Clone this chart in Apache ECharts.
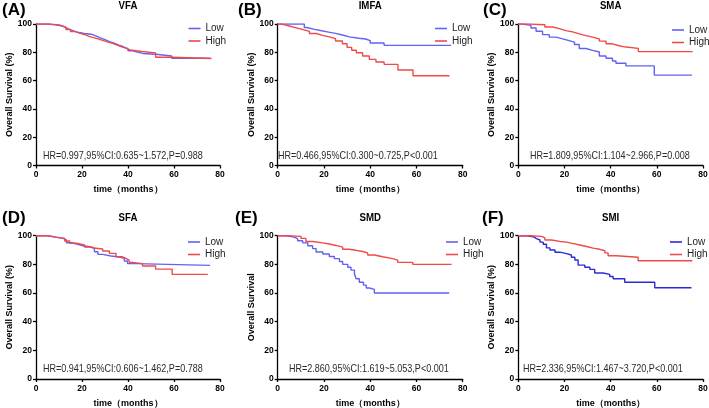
<!DOCTYPE html>
<html>
<head>
<meta charset="utf-8">
<title>Overall Survival - KM curves</title>
<script src="https://cdn.jsdelivr.net/npm/echarts@6.0.0/dist/echarts.min.js"></script>
<style>
  html, body { margin: 0; padding: 0; background: #fff; }
  #chart { width: 709px; height: 408px; }
</style>
</head>
<body>
<div id="chart"></div>
<script>
// KM step points: [months, survival %]
var vfaLow  = [[0,100],[5.5,99.4],[8.5,98.8],[11,97.9],[12.5,96.5],[14,95.3],[16,94.2],[18,93.3],[21,92.8],[24,91.6],[26,90.2],[28,88.9],[30,87.6],[32,86.5],[34,85.1],[36,83.9],[38,82.6],[40,81.1],[42,80.1],[44,79.2],[46.5,78.6],[52,77.4],[59,75.8],[75.5,75.8]];
var vfaHigh = [[0,100],[5.5,99.4],[10,98.6],[11.5,97.6],[13,96.1],[15,94.6],[17,93.5],[19,92.6],[21,91.3],[23,90.4],[25,89.5],[27,88.4],[29,87.4],[31,86.5],[33,85.3],[35,84.1],[37,83],[39,81.6],[41,80.6],[46,79.6],[52,76.5],[59,75.6],[76.3,75.6]];

var imfaLow  = [[0,100],[11.5,97.5],[12.5,96.2],[16,95.2],[19,94.3],[22,93.4],[25,92.2],[28,90.9],[31,89.9],[35,89.4],[38,88.2],[40,86.6],[46,84.9],[75,84.9]];
var imfaHigh = [[0,100],[1.5,99.4],[3,98.6],[5,97.3],[8,96],[11,94.8],[13.7,93.3],[16.6,92],[19.5,90.9],[22.3,89.7],[25,88],[28,86],[30,83.5],[32,81.5],[34,79.7],[36.7,77.4],[39.6,75],[42.5,73.1],[46,71.5],[52,67.5],[58.5,63.4],[74.3,63.4]];

var smaLow  = [[0,100],[1.9,99],[5.5,97.2],[7.7,94.9],[10.5,92.5],[13.4,90.7],[16.3,89.5],[19.2,88.3],[22,87.2],[24.3,85.5],[26.4,82.7],[29.3,81.4],[32.2,80.2],[35.1,77.4],[38,75.8],[40.8,73.9],[42.3,72.3],[46.6,70.4],[58.9,63.9],[75.2,63.9]];
var smaHigh = [[0,100],[5,99.5],[11.5,97.9],[14.9,96.7],[17.8,95.3],[20.6,94.4],[23.5,93],[26.4,91.8],[29.3,90.7],[32.2,89.5],[35.1,87.9],[38,86],[40.8,84.6],[43.7,83.7],[46.6,82.8],[52,80.5],[75.5,80.5]];

var sfaLow  = [[0,100],[5.3,99],[8.2,98.1],[11.8,97],[13.2,95.1],[15.4,94],[18.2,93],[20.4,92.3],[23.3,91.2],[25.4,88.8],[26.9,87],[29,85.8],[32.6,85.1],[36.2,84.2],[38.4,82.3],[39.8,80.5],[43.4,79.3],[75.7,79.3]];
var sfaHigh = [[0,100],[5.3,99],[8.9,98.1],[12.5,96.3],[14.7,94.7],[17.5,93.5],[21.1,92.1],[24,91.2],[26.1,90.7],[29,89.3],[31.9,87.7],[34.8,85.3],[37.6,84.2],[39.1,83],[40.5,81.4],[42,80.5],[46.3,78.9],[52,76.7],[59.2,73],[74.7,73]];

var smdLow  = [[0,100],[3.6,99.3],[6.5,98],[8.6,96.5],[10.8,95],[13,93],[15.1,91],[16.6,88.6],[19.5,87.2],[22.3,85.5],[24.5,84],[26.7,82],[28.1,80],[30.3,78],[31.7,76],[33.2,73.5],[33.9,70],[35.3,67.5],[37.1,65.5],[38.3,63.5],[39.7,62.5],[41.8,60],[74.2,60]];
var smdHigh = [[0,100],[3.6,99.5],[10.1,98.1],[12.2,96],[15.1,95],[19.5,94.2],[22.3,93.2],[25.2,92],[28.1,90.5],[30.9,89.8],[33.9,89],[36.8,88],[38.9,86.5],[41.8,85.3],[45.4,84],[49.7,83],[51.9,81.4],[58.4,80],[75.2,80]];

var smiLow  = [[0,100],[3.6,99.3],[6.5,98],[7.9,97],[9.4,95.5],[10.8,94],[12.2,91.5],[13.7,90],[15.9,88.5],[18,87.5],[20.9,86.5],[23,85],[24.5,83],[25.9,79.5],[28.8,78],[31,76.5],[33.1,74],[36.7,73],[39.6,71.5],[41.1,70],[46.1,67.5],[59.1,63.7],[75,63.7]];
var smiHigh = [[0,100],[5,99.5],[10.1,98.5],[11.5,97],[14.4,96],[18,95.5],[20.9,94.5],[23.8,93.5],[26.7,92.5],[29.5,91.3],[32.4,90.5],[35.3,89.5],[37.5,88],[38.9,86],[42.5,85],[51.9,82.5],[75.4,82.5]];

var panelKeys   = ['(A)', '(B)', '(C)', '(D)', '(E)', '(F)'];
var panelTitles = ['VFA', 'IMFA', 'SMA', 'SFA', 'SMD', 'SMI'];
var hrTexts = [
  'HR=0.997,95%CI:0.635~1.572,P=0.988',
  'HR=0.466,95%CI:0.300~0.725,P<0.001',
  'HR=1.809,95%CI:1.104~2.966,P=0.008',
  'HR=0.941,95%CI:0.606~1.462,P=0.788',
  'HR=2.860,95%CI:1.619~5.053,P<0.001',
  'HR=2.336,95%CI:1.467~3.720,P<0.001'
];
var yNames = ['Overall Survival (%)', 'Overall Survival (%)', 'Overall Survival (%)',
              'Overall Survival (%)', 'Overall Survival', 'Overall Survival (%)'];
var xName = 'time（months）';
var groupNames = ['Low', 'High'];
var xMax = 80, yMax = 100, tickStep = 20;

var lowSets  = [vfaLow, imfaLow, smaLow, sfaLow, smdLow, smiLow];
var highSets = [vfaHigh, imfaHigh, smaHigh, sfaHigh, smdHigh, smiHigh];

// ---- layout / style ----
var colX = [36, 277.7, 518.3], colW = [184, 185, 184.7];
var rowY = [24, 235.7], rowH = [141.5, 143.3];
var legendX = [183.5, 430, 667, 183, 441, 665];
var legendY = [18.5, 18.5, 20, 232, 232, 232];
var letterX = [2, 238, 483, 2, 235, 482];
var hrX = [43, 278, 530, 43, 289, 523];
var lowColors = ['#6262f4', '#6262f4', '#6262f4', '#6262f4', '#6262f4', '#2a2ad4'];
var highColor = '#ee4a4a';
var FONT = 'Liberation Sans, Arial, sans-serif';

var chart = echarts.init(document.getElementById('chart'));
var grids = [], xAxes = [], yAxes = [], series = [], legends = [], graphics = [];

for (var i = 0; i < 6; i++) {
  var c = i % 3, r = Math.floor(i / 3);
  var gx = colX[c], gy = rowY[r], gw = colW[c], gh = rowH[r];
  grids.push({ left: gx, top: gy, width: gw, height: gh, outerBoundsMode: 'none' });

  var axisCommon = {
    gridIndex: i, type: 'value', min: 0, interval: tickStep,
    axisLine: { show: true, lineStyle: { color: '#000', width: 1.3 } },
    axisTick: { show: true, length: 3, lineStyle: { color: '#000', width: 1.3 } },
    splitLine: { show: false },
    axisLabel: { color: '#000', fontSize: 8.5, fontWeight: 'bold', fontFamily: FONT },
    nameLocation: 'middle',
    nameTextStyle: { color: '#000', fontWeight: 'bold', fontFamily: FONT }
  };
  xAxes.push(Object.assign({}, axisCommon, {
    max: xMax, name: xName, nameGap: 20,
    axisLabel: Object.assign({}, axisCommon.axisLabel, { margin: 5 }),
    nameTextStyle: Object.assign({}, axisCommon.nameTextStyle, { fontSize: 9 })
  }));
  yAxes.push(Object.assign({}, axisCommon, {
    max: yMax, name: yNames[i], nameGap: 22,
    axisLabel: Object.assign({}, axisCommon.axisLabel, { margin: 4 }),
    nameTextStyle: Object.assign({}, axisCommon.nameTextStyle, { fontSize: 9 })
  }));

  var lowName = groupNames[0] + '|' + i, highName = groupNames[1] + '|' + i;
  series.push({
    name: lowName, type: 'line', step: 'end', xAxisIndex: i, yAxisIndex: i,
    data: lowSets[i], showSymbol: false, symbol: 'none', animation: false,
    itemStyle: { color: lowColors[i] }, lineStyle: { color: lowColors[i], width: 1.4 }
  });
  series.push({
    name: highName, type: 'line', step: 'end', xAxisIndex: i, yAxisIndex: i,
    data: highSets[i], showSymbol: false, symbol: 'none', animation: false,
    itemStyle: { color: highColor }, lineStyle: { color: highColor, width: 1.4 }
  });

  legends.push({
    left: legendX[i], top: legendY[i], orient: 'vertical',
    icon: 'rect', itemWidth: 12, itemHeight: 1.6, itemGap: 2.5, itemTextGap: 5,
    textStyle: { color: '#222', fontSize: 10, fontFamily: FONT },
    formatter: function (n) { return n.split('|')[0]; },
    data: [
      { name: lowName, itemStyle: { color: lowColors[i] } },
      { name: highName, itemStyle: { color: highColor } }
    ]
  });

  // panel letter, title and hazard ratio note
  graphics.push({
    type: 'text', x: letterX[i], y: r === 0 ? 10 : 218,
    style: { text: panelKeys[i], font: 'bold 17px ' + FONT, fill: '#000',
             align: 'left', textAlign: 'left', verticalAlign: 'middle', textVerticalAlign: 'middle' }
  });
  graphics.push({
    type: 'text', x: gx + gw / 2, y: r === 0 ? 6 : 218, scaleX: 0.92,
    style: { text: panelTitles[i], font: 'bold 10.5px ' + FONT, fill: '#000',
             align: 'center', textAlign: 'center', verticalAlign: 'middle', textVerticalAlign: 'middle' }
  });
  graphics.push({
    type: 'text', x: hrX[i], y: r === 0 ? 155.5 : 369, scaleX: 0.82,
    style: { text: hrTexts[i], font: '11px ' + FONT, fill: '#2a2a2a',
             align: 'left', textAlign: 'left', verticalAlign: 'middle', textVerticalAlign: 'middle' }
  });
}

chart.setOption({
  animation: false,
  backgroundColor: '#fff',
  grid: grids,
  xAxis: xAxes,
  yAxis: yAxes,
  legend: legends,
  series: series,
  graphic: { elements: graphics }
});
</script>
</body>
</html>
